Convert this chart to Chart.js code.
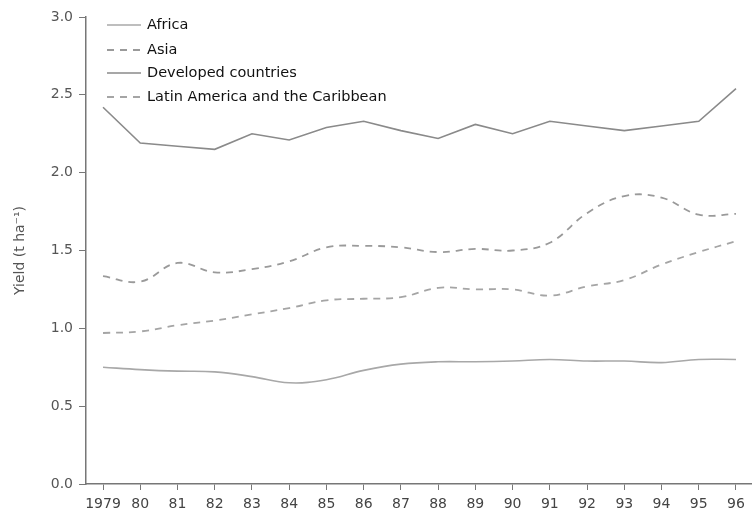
<!DOCTYPE html>
<html>
<head>
<meta charset="utf-8">
<script src="https://cdn.jsdelivr.net/npm/chart.js@4"></script>
<style>
  html, body { margin: 0; padding: 0; background: #fff; }
  #wrap { width: 752px; height: 511px; }
</style>
</head>
<body>
<div id="wrap"><canvas id="c" width="752" height="511"></canvas></div>
<script>
const years = [1979,1980,1981,1982,1983,1984,1985,1986,1987,1988,1989,1990,1991,1992,1993,1994,1995,1996];
const africa    = [0.75,0.735,0.725,0.72,0.69,0.65,0.67,0.73,0.77,0.785,0.785,0.79,0.80,0.79,0.79,0.78,0.80,0.80];
const asia      = [1.335,1.30,1.42,1.36,1.38,1.43,1.52,1.53,1.52,1.49,1.51,1.50,1.55,1.74,1.85,1.84,1.73,1.735];
const developed = [2.42,2.19,2.17,2.15,2.25,2.21,2.29,2.33,2.27,2.22,2.31,2.25,2.33,2.30,2.27,2.30,2.33,2.54];
const latin     = [0.97,0.98,1.02,1.05,1.09,1.13,1.18,1.19,1.20,1.26,1.25,1.25,1.21,1.27,1.31,1.41,1.49,1.56];
const seriesNames = ["Africa","Asia","Developed countries","Latin America and the Caribbean"];
const yTicks = [0,0.5,1.0,1.5,2.0,2.5,3.0];

const FONT = "'DejaVu Sans', sans-serif";
const pts = arr => arr.map((v,i) => ({x: years[i], y: v}));

const legendPlugin = {
  id: 'insideLegend',
  afterDraw(chart) {
    const ctx = chart.ctx;
    const rows = [25, 50, 73, 97];
    ctx.save();
    chart.data.datasets.forEach((ds, i) => {
      const y = rows[i];
      ctx.beginPath();
      ctx.strokeStyle = ds.borderColor;
      ctx.lineWidth = ds.borderWidth;
      ctx.setLineDash(ds.borderDash || []);
      ctx.moveTo(107, y);
      ctx.lineTo(141, y);
      ctx.stroke();
      ctx.setLineDash([]);
      ctx.fillStyle = '#111';
      ctx.font = "14.5px " + FONT;
      ctx.textBaseline = 'middle';
      ctx.fillText(ds.label, 147, y);
    });
    ctx.restore();
  }
};

new Chart(document.getElementById('c'), {
  type: 'line',
  data: {
    datasets: [
      { label: seriesNames[0], data: pts(africa), borderColor: '#a8a8a8', borderWidth: 1.6, tension: 0.4, pointRadius: 0, fill: false },
      { label: seriesNames[1], data: pts(asia), borderColor: '#9a9a9a', borderWidth: 1.8, borderDash: [7,6], tension: 0.4, pointRadius: 0, fill: false },
      { label: seriesNames[2], data: pts(developed), borderColor: '#8a8a8a', borderWidth: 1.6, tension: 0, pointRadius: 0, fill: false },
      { label: seriesNames[3], data: pts(latin), borderColor: '#a5a5a5', borderWidth: 1.8, borderDash: [7,6], tension: 0.4, pointRadius: 0, fill: false }
    ]
  },
  options: {
    responsive: false,
    animation: false,
    events: [],
    layout: { padding: { top: 17, right: 0, left: 0, bottom: 0 } },
    plugins: { legend: { display: false }, tooltip: { enabled: false } },
    scales: {
      x: {
        type: 'linear',
        min: 1978.543,
        max: 1996.43,
        afterBuildTicks(scale) { scale.ticks = years.map(v => ({ value: v })); },
        afterFit(scale) { scale.height = 27; },
        border: { display: true, color: '#777', width: 1.5 },
        grid: { display: true, drawOnChartArea: false, drawTicks: true, tickLength: 6, color: '#777', lineWidth: 1 },
        ticks: {
          autoSkip: false, maxRotation: 0, padding: 6,
          color: '#444', font: { family: FONT, size: 14 },
          callback: (v) => v === 1979 ? '1979' : String(v).slice(2)
        }
      },
      y: {
        min: 0, max: 3,
        afterBuildTicks(scale) { scale.ticks = yTicks.map(v => ({ value: v })); },
        afterFit(scale) { scale.width = 86; },
        border: { display: true, color: '#777', width: 1.5 },
        grid: { display: true, drawOnChartArea: false, drawTicks: true, tickLength: 7, color: '#777', lineWidth: 1 },
        ticks: {
          padding: 6, color: '#555', font: { family: FONT, size: 14 },
          callback: (v) => Number(v).toFixed(1)
        },
        title: { display: true, text: 'Yield (t ha\u207B\u00B9)', color: '#555', font: { family: FONT, size: 14 }, padding: { top: 12, bottom: 0 } }
      }
    }
  },
  plugins: [legendPlugin]
});
</script>
</body>
</html>
